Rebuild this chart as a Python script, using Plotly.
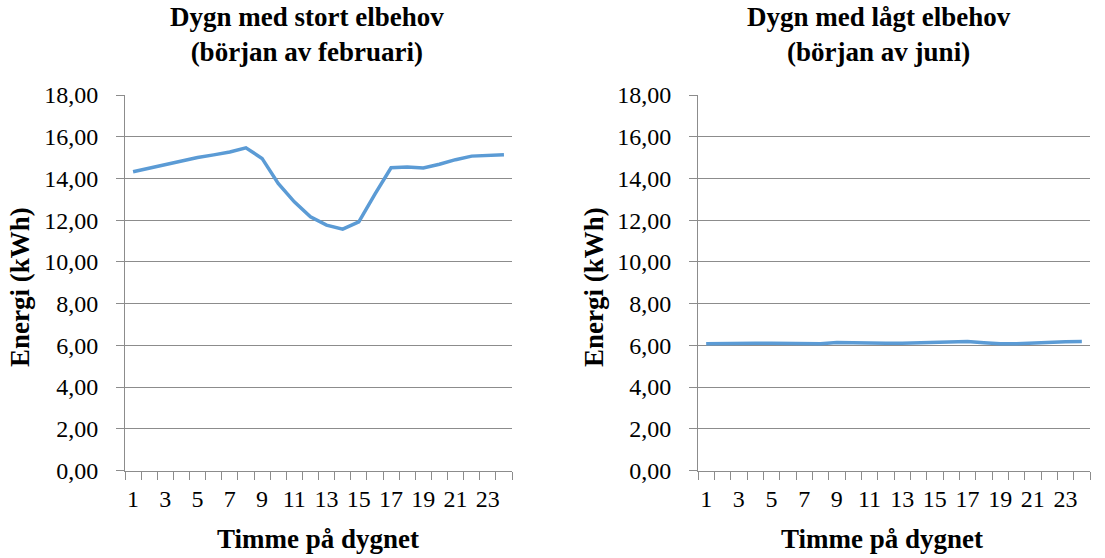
import plotly.graph_objects as go

# Hourly energy use over a day, two representative days
hours = list(range(1, 25))
feb_energy = [14.32, 14.50, 14.68, 14.84, 15.00, 15.13, 15.27, 15.47,
              14.96, 13.76, 12.88, 12.16, 11.76, 11.57, 11.92, 13.25,
              14.51, 14.55, 14.50, 14.68, 14.90, 15.07, 15.10, 15.14]
jun_energy = [6.08, 6.10, 6.10, 6.10, 6.10, 6.09, 6.07, 6.08,
              6.13, 6.11, 6.11, 6.10, 6.10, 6.12, 6.14, 6.16,
              6.18, 6.12, 6.07, 6.08, 6.12, 6.14, 6.17, 6.18]

x_tick_vals = list(range(1, 24, 2))
x_tick_text = [str(v) for v in x_tick_vals]
y_tick_vals = list(range(0, 19, 2))

titles = ["Dygn med stort elbehov<br>(början av februari)",
          "Dygn med lågt elbehov<br>(början av juni)"]
x_title = "Timme på dygnet"
y_title = "Energi (kWh)"

W, H = 1105, 558
FONT = "Liberation Serif"
LINE_BLUE = "#5B9BD5"
GRID = "#8C8C8C"


def px(x):
    return x / W


def py(y):
    return 1 - y / H


fig = go.Figure()
fig.add_trace(go.Scatter(x=hours, y=feb_energy, mode="lines",
                         line=dict(color=LINE_BLUE, width=3.5),
                         xaxis="x", yaxis="y", showlegend=False))
fig.add_trace(go.Scatter(x=hours, y=jun_energy, mode="lines",
                         line=dict(color=LINE_BLUE, width=3.5),
                         xaxis="x2", yaxis="y2", showlegend=False))

ydom = [py(470.5), py(95)]


def xaxis(domain, anchor):
    return dict(domain=domain, anchor=anchor, range=[0.5, 24.5],
                automargin=False,
                tickmode="array", tickvals=x_tick_vals, ticktext=x_tick_text,
                ticks="", showgrid=False, zeroline=False,
                showline=True, linecolor=GRID, linewidth=1,
                ticklabelstandoff=7,
                minor=dict(tickmode="linear", tick0=0.5, dtick=1,
                           ticks="outside", ticklen=8, tickcolor=GRID,
                           tickwidth=1, showgrid=False),
                tickfont=dict(family=FONT, size=24, color="black"))


def yaxis(anchor):
    return dict(domain=ydom, anchor=anchor, range=[0, 18],
                automargin=False,
                tickmode="array", tickvals=y_tick_vals, tickformat=".2f",
                ticks="outside", ticklen=8, tickcolor=GRID, tickwidth=1,
                showgrid=True, gridcolor=GRID, gridwidth=1, zeroline=False,
                showline=True, linecolor=GRID, linewidth=1,
                ticklabelstandoff=13,
                tickfont=dict(family=FONT, size=24, color="black"))


annotations = []
title_font = dict(family=FONT, size=27, color="black")
axis_font = dict(family=FONT, size=27, color="black")
for tx, title, xt_x, yt_x in [(307, titles[0], 318, 20),
                              (879, titles[1], 882, 594)]:
    annotations.append(dict(text="<b>" + title + "</b>", x=px(tx), y=py(35),
                            xref="paper", yref="paper", showarrow=False,
                            xanchor="center", yanchor="middle",
                            font=title_font))
    annotations.append(dict(text="<b>" + x_title + "</b>", x=px(xt_x), y=py(539),
                            xref="paper", yref="paper", showarrow=False,
                            xanchor="center", yanchor="middle",
                            font=axis_font))
    annotations.append(dict(text="<b>" + y_title + "</b>", x=px(yt_x), y=py(287),
                            xref="paper", yref="paper", showarrow=False,
                            xanchor="center", yanchor="middle", textangle=-90,
                            font=axis_font))

fig.update_layout(
    template="none",
    width=W, height=H,
    margin=dict(l=0, r=0, t=0, b=0, pad=0),
    paper_bgcolor="white", plot_bgcolor="white",
    font=dict(family=FONT, color="black"),
    separators=",.",
    xaxis=xaxis([px(125), px(512)], "y"),
    yaxis=yaxis("x"),
    xaxis2=xaxis([px(698), px(1090)], "y2"),
    yaxis2=yaxis("x2"),
    annotations=annotations,
)

fig.write_html("out.html")
